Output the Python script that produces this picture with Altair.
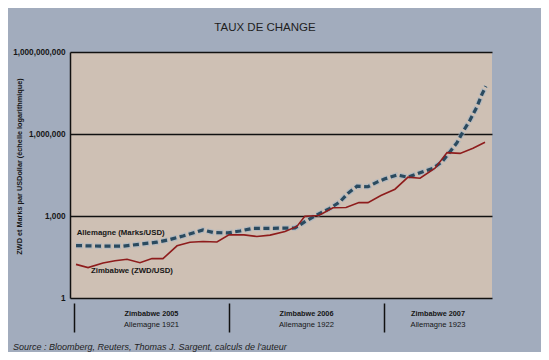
import altair as alt
import pandas as pd

# ---- data (months since Jan 2005 / Jan 1921) ----
zim_mois = [-0.34, 0.59, 1.75, 2.68, 3.61, 4.61, 5.54, 6.39, 7.48, 8.48, 9.49, 10.57,
            11.5, 12.66, 13.66, 14.68, 15.84, 16.76, 17.37, 18.46, 19.55, 20.56, 21.56,
            22.26, 23.26, 24.35, 25.36, 26.29, 27.45, 28.38, 29.39, 30.39, 31.32]
zim_taux = [17, 13, 19, 23, 26, 19.5, 28, 27.5, 81, 110, 117, 112,
            204, 204, 178, 200, 269, 417, 977, 1047, 1995, 2042, 3090,
            3090, 5623, 9550, 26300, 24000, 56200, 209000, 195000, 302000, 501000]

all_mois = [-0.34, 1.52, 3.30, 4.77, 5.93, 6.93, 7.94, 8.87, 9.49, 10.26, 11.42, 12.35,
            13.36, 14.91, 16.61, 17.38, 18.31, 19.32, 20.09, 20.71, 21.41, 22.26, 22.96,
            23.58, 24.51, 25.36, 26.29, 27.31, 28.00, 28.61, 29.15, 29.62, 30.16, 30.70,
            31.08, 31.39]
all_taux = [83, 79, 79, 95, 110, 138, 186, 251, 309, 251, 240, 282,
            355, 355, 363, 617, 1096, 1905, 3311, 6761, 12300, 11750, 17380,
            22900, 31600, 26300, 38000, 56200, 97700, 224000, 479000, 1230000, 3240000, 10000000,
            28200000, 56200000]

y_ticks = [1, 1000, 1000000, 1000000000]
annees_limites = [-0.5, 11.5, 23.5]
x_domaine = [-0.805, 31.86]
lab_zim = ["Zimbabwe 2005", "Zimbabwe 2006", "Zimbabwe 2007"]
lab_all = ["Allemagne 1921", "Allemagne 1922", "Allemagne 1923"]

serie_noms = ["Allemagne (Marks/USD)", "Zimbabwe (ZWD/USD)"]
serie_lab_mois = [-0.29, 0.82]
serie_lab_taux = [240, 10]

titre = "TAUX DE CHANGE"
source = "Source : Bloomberg, Reuters, Thomas J. Sargent, calculs de l'auteur"
y_titre = "ZWD et Marks par USDollar (échelle logarithmique)"

# ---- tables ----
df_zim = pd.DataFrame({"mois": zim_mois, "taux": zim_taux})
df_all = pd.DataFrame({"mois": all_mois, "taux": all_taux})
df_lab = pd.DataFrame({"mois": serie_lab_mois, "taux": serie_lab_taux, "nom": serie_noms})
bornes = annees_limites + [x_domaine[1]]
centres = [(bornes[i] + bornes[i + 1]) / 2 for i in range(3)]
df_ann = pd.DataFrame({"mois": centres, "z": lab_zim, "a": lab_all})

SANS = "Liberation Sans, Arial, sans-serif"
INK = "#161616"

x_enc = alt.X("mois:Q", scale=alt.Scale(domain=x_domaine, nice=False, zero=False),
              axis=alt.Axis(values=annees_limites, tickSize=29, offset=5, domain=False,
                            labels=False, grid=False, tickColor="#111", tickWidth=1.5,
                            title=None))
y_enc = alt.Y("taux:Q", scale=alt.Scale(type="log", domain=[1, 1e9], nice=False),
              axis=alt.Axis(values=y_ticks, format=",", grid=True, gridColor="#111",
                            gridWidth=1.3, domain=True, domainColor="#111", domainWidth=1.5,
                            ticks=False, labelFont=SANS, labelFontWeight="bold",
                            labelFontSize=8.2, labelColor=INK, labelPadding=5,
                            title=y_titre, titleFont=SANS, titleFontSize=7.3,
                            titleFontWeight="bold", titleColor=INK, titleX=-51, titleY=114,
                            titleAngle=270, titleAlign="center", titleBaseline="middle"))

halo = alt.Chart(df_all).mark_line(color="#9fb3c6", strokeWidth=5.5, opacity=0.55,
                                   strokeDash=[7, 2.5]).encode(x=x_enc, y=y_enc)
ger = alt.Chart(df_all).mark_line(color="#2a4a5f", strokeWidth=3.2,
                                  strokeDash=[6, 3.5]).encode(x="mois:Q", y="taux:Q")
zim = alt.Chart(df_zim).mark_line(color="#8e1c1c", strokeWidth=1.6).encode(
    x="mois:Q", y="taux:Q")

labs = alt.Chart(df_lab).mark_text(align="left", baseline="middle", font=SANS,
                                   fontSize=7.8, fontWeight="bold", color=INK).encode(
    x="mois:Q", y="taux:Q", text="nom:N")

ann_z = alt.Chart(df_ann).mark_text(align="center", baseline="middle", font=SANS,
                                    fontSize=7.3, fontWeight="bold", color=INK).encode(
    x="mois:Q", y=alt.value(262), text="z:N")
ann_a = alt.Chart(df_ann).mark_text(align="center", baseline="middle", font=SANS,
                                    fontSize=7.6, color=INK).encode(
    x="mois:Q", y=alt.value(272.5), text="a:N")

t_title = alt.Chart(pd.DataFrame({"t": [titre]})).mark_text(
    align="center", baseline="middle", font=SANS, fontSize=11.5, color="#1e1e1e").encode(
    x=alt.value(195), y=alt.value(-24), text="t:N")
t_src = alt.Chart(pd.DataFrame({"t": [source]})).mark_text(
    align="left", baseline="middle", font=SANS, fontSize=9, fontStyle="italic",
    color="#1e1e1e").encode(x=alt.value(-57), y=alt.value(294.5), text="t:N")

chart = alt.layer(halo, ger, zim, labs, ann_z, ann_a, t_title, t_src).properties(
    width=422, height=246,
    autosize=alt.AutoSizeParams(type="none"),
    padding={"left": 62, "top": 44, "right": 49, "bottom": 54},
    background="#a2acbd",
).configure_view(fill="#cec0b4", stroke=None)

chart.save("out.html", embed_options={"renderer": "svg", "actions": False})
